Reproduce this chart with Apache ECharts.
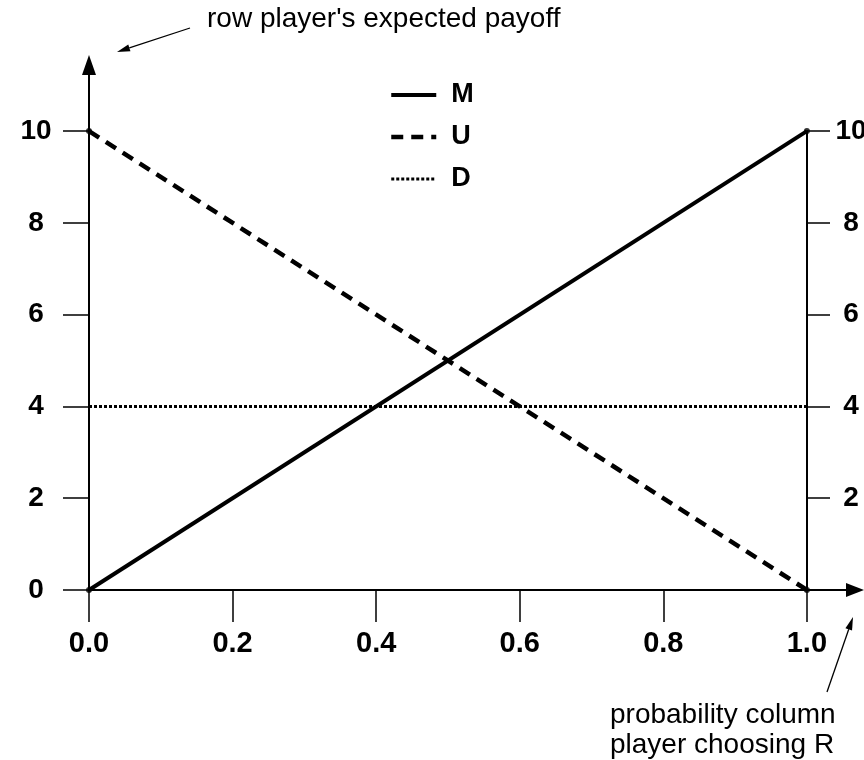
<!DOCTYPE html>
<html>
<head>
<meta charset="utf-8">
<script src="https://cdn.jsdelivr.net/npm/echarts@6/dist/echarts.min.js"></script>
<style>
  html, body { margin: 0; padding: 0; background: #fff; }
  #show_picture { width: 864px; height: 760px; }
</style>
</head>
<body>
<div id="show_picture"></div>
<script>
// probability that the column player chooses R
const prob = [0, 1];
// row player's expected payoff for each row strategy
const payoffM = [0, 10];
const payoffU = [10, 0];
const payoffD = [4, 4];

const xTicks = [0, 0.2, 0.4, 0.6, 0.8, 1.0];
const yTicks = [0, 2, 4, 6, 8, 10];
const yTicksRight = [2, 4, 6, 8, 10];

const font = '"Liberation Sans", Arial, sans-serif';

let myChart = echarts.init(document.getElementById('show_picture'));

function pairs(ys) {
    return prob.map((x, i) => [x, ys[i]]);
}

// little arrow used by the two annotations
function arrow(x1, y1, x2, y2) {
    const dx = x2 - x1, dy = y2 - y1;
    const len = Math.sqrt(dx * dx + dy * dy);
    const ux = dx / len, uy = dy / len;
    const bx = x2 - ux * 13, by = y2 - uy * 13;
    const w = 3.5;
    return [
        {
            type: 'line',
            shape: { x1: x1, y1: y1, x2: bx, y2: by },
            style: { stroke: '#000', lineWidth: 1.3 }
        },
        {
            type: 'polygon',
            shape: { points: [[x2, y2], [bx - uy * w, by + ux * w], [bx + uy * w, by - ux * w]] },
            style: { fill: '#000' }
        }
    ];
}

const styleM = { color: '#000', width: 4, type: 'solid' };
const styleU = { color: '#000', width: 4.5, type: [12, 8] };
const styleD = { color: '#000', width: 3, type: [3, 2] };

const axisBlack = { color: '#000', width: 2 };
const tickBlack = { color: '#000', width: 1.5 };
const labelStyle = { color: '#000', fontFamily: font, fontWeight: 'bold', fontSize: 28 };

let option = {
    backgroundColor: '#fff',
    animation: false,
    textStyle: { fontFamily: font },
    legend: {
        data: [
            { name: 'M', lineStyle: styleM },
            { name: 'U', lineStyle: styleU },
            { name: 'D', lineStyle: styleD }
        ],
        orient: 'vertical',
        left: 389,
        top: 81,
        padding: 0,
        itemWidth: 45,
        itemHeight: 14,
        itemGap: 14,
        itemStyle: { opacity: 0 },
        textStyle: {
            color: '#000',
            fontFamily: font,
            fontWeight: 'bold',
            fontSize: 27,
            lineHeight: 28,
            padding: [0, 0, 0, 10]
        }
    },
    grid: [
        { left: 89, right: 9, top: 65, bottom: 170, outerBoundsMode: 'none' },
        { left: 0, right: 57, top: 131, bottom: 170, outerBoundsMode: 'none' }
    ],
    xAxis: [
        {
            type: 'value',
            gridIndex: 0,
            min: 0,
            max: 1.067,
            splitLine: { show: false },
            axisLine: {
                show: true,
                onZero: false,
                lineStyle: axisBlack,
                symbol: ['none', 'triangle'],
                symbolSize: [14, 18]
            },
            axisTick: { show: true, customValues: xTicks, length: 32, lineStyle: tickBlack },
            axisLabel: {
                customValues: xTicks,
                formatter: v => v.toFixed(1),
                margin: 39,
                ...labelStyle,
                fontSize: 29
            }
        },
        {
            type: 'value',
            gridIndex: 1,
            min: 0,
            max: 1,
            show: false
        }
    ],
    yAxis: [
        {
            type: 'value',
            gridIndex: 0,
            min: 0,
            max: 11.44,
            position: 'left',
            splitLine: { show: false },
            axisLine: {
                show: true,
                onZero: false,
                lineStyle: axisBlack,
                symbol: ['none', 'triangle'],
                symbolSize: [14, 20]
            },
            axisTick: { show: true, customValues: yTicks, length: 26, lineStyle: tickBlack },
            axisLabel: {
                customValues: yTicks,
                align: 'center',
                margin: 53,
                ...labelStyle
            }
        },
        {
            type: 'value',
            gridIndex: 1,
            min: 0,
            max: 10,
            interval: 2,
            position: 'right',
            splitLine: { show: false },
            axisLine: { show: true, onZero: false, lineStyle: axisBlack },
            axisTick: { show: true, length: 23, lineStyle: tickBlack },
            axisLabel: {
                customValues: yTicksRight,
                align: 'center',
                margin: 44,
                ...labelStyle
            }
        }
    ],
    series: [
        {
            name: 'M',
            type: 'line',
            symbol: 'none',
            data: pairs(payoffM),
            lineStyle: styleM,
            itemStyle: { color: '#000' }
        },
        {
            name: 'U',
            type: 'line',
            symbol: 'none',
            data: pairs(payoffU),
            lineStyle: styleU,
            itemStyle: { color: '#000' }
        },
        {
            name: 'D',
            type: 'line',
            symbol: 'none',
            data: pairs(payoffD),
            lineStyle: styleD,
            itemStyle: { color: '#000' }
        },
        {
            name: 'ends',
            type: 'scatter',
            symbolSize: 6,
            itemStyle: { color: '#000' },
            data: pairs(payoffM).concat(pairs(payoffU)),
            z: 5
        }
    ],
    graphic: [
        {
            type: 'text',
            left: 207,
            top: 5,
            style: { text: "row player's expected payoff", fill: '#000', font: '28px ' + font }
        },
        {
            type: 'text',
            left: 610,
            top: 701,
            style: { text: 'probability column', fill: '#000', font: '28px ' + font }
        },
        {
            type: 'text',
            left: 610,
            top: 731,
            style: { text: 'player choosing R', fill: '#000', font: '28px ' + font }
        },
        ...arrow(190, 28, 117, 52),
        ...arrow(827, 692, 853, 617)
    ]
};

option && myChart.setOption(option);
</script>
</body>
</html>
